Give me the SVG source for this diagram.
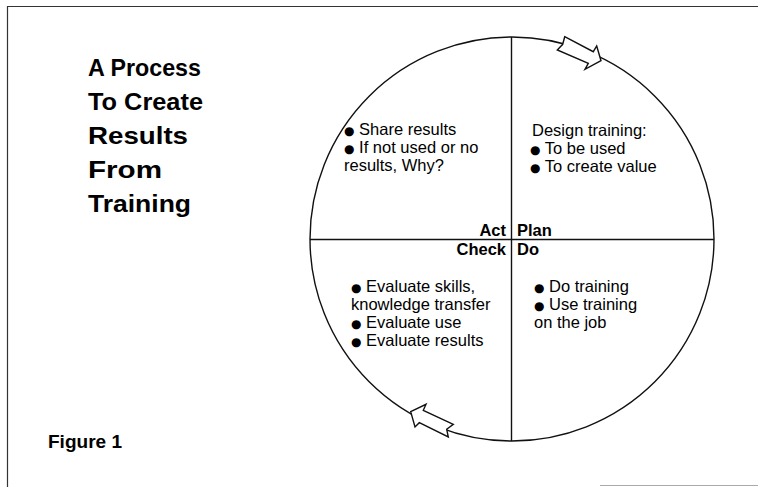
<svg xmlns="http://www.w3.org/2000/svg" width="758" height="487" viewBox="0 0 758 487">
  <style>
    .frame { fill: none; stroke: #333; stroke-width: 1.2; }
    .line { fill: none; stroke: #111; stroke-width: 1.4; }
    .arrow { fill: #fff; stroke: #111; stroke-width: 1.4; stroke-linejoin: miter; }
    .title { font-family: "Liberation Sans", Arial, sans-serif; font-weight: bold; font-size: 24px; fill: #000; }
    .body { font-family: "Liberation Sans", Arial, "DejaVu Sans", sans-serif; font-size: 16.5px; fill: #000; }
    .label { font-family: "Liberation Sans", Arial, sans-serif; font-weight: bold; font-size: 16.5px; fill: #000; }
    .fig { font-family: "Liberation Sans", Arial, sans-serif; font-weight: bold; font-size: 19px; fill: #000; }
    .dot { font-family: "DejaVu Sans", sans-serif; font-size: 12px; }
  </style>
  <rect width="758" height="487" fill="#fff"/>
  <!-- page frame -->
  <path class="frame" d="M7.5 487 V6.5 H758"/>
  <line x1="600" y1="485.5" x2="758" y2="485.5" stroke="#aaa" stroke-width="1"/>

  <!-- heading -->
  <g id="heading">
    <text class="title" x="88" y="76" textLength="113" lengthAdjust="spacingAndGlyphs">A Process</text>
    <text class="title" x="88" y="110" textLength="115" lengthAdjust="spacingAndGlyphs">To Create</text>
    <text class="title" x="88" y="144" textLength="100" lengthAdjust="spacingAndGlyphs">Results</text>
    <text class="title" x="88" y="178" textLength="74" lengthAdjust="spacingAndGlyphs">From</text>
    <text class="title" x="88" y="212" textLength="103" lengthAdjust="spacingAndGlyphs">Training</text>
  </g>

  <!-- cycle: circle, quadrant dividers and flow arrows -->
  <g id="connectors">
    <circle class="line" cx="512" cy="239" r="202"/>
    <line class="line" x1="310" y1="239.5" x2="714" y2="239.5"/>
    <line class="line" x1="511.5" y1="37" x2="511.5" y2="441"/>
    <path class="arrow" d="M564.7 36.7 L593.3 51.7 L596.7 46 L601 60.7 L585 69.3 L588.3 63.3 L557.3 50 L562.7 44.3 Z"/>
    <path class="arrow" d="M410.7 411.7 L426 404.3 L423.3 410.3 L453.3 424.3 L446.7 429.3 L448.3 437 L419.3 422.7 L415 427 Z"/>
  </g>

  <g id="act">
    <text class="body" x="344" y="135"><tspan class="dot">●</tspan> Share results</text>
    <text class="body" x="344" y="153"><tspan class="dot">●</tspan> If not used or no</text>
    <text class="body" x="344" y="171">results, Why?</text>
    <text class="label" x="506" y="236" text-anchor="end">Act</text>
  </g>

  <g id="plan">
    <text class="body" x="532" y="136">Design training:</text>
    <text class="body" x="530" y="154"><tspan class="dot">●</tspan> To be used</text>
    <text class="body" x="530" y="172"><tspan class="dot">●</tspan> To create value</text>
    <text class="label" x="517" y="236">Plan</text>
  </g>

  <g id="check">
    <text class="label" x="506" y="255" text-anchor="end">Check</text>
    <text class="body" x="351" y="292"><tspan class="dot">●</tspan> Evaluate skills,</text>
    <text class="body" x="351" y="310">knowledge transfer</text>
    <text class="body" x="351" y="328"><tspan class="dot">●</tspan> Evaluate use</text>
    <text class="body" x="351" y="346"><tspan class="dot">●</tspan> Evaluate results</text>
  </g>

  <g id="do">
    <text class="label" x="517" y="255">Do</text>
    <text class="body" x="534" y="292"><tspan class="dot">●</tspan> Do training</text>
    <text class="body" x="534" y="310"><tspan class="dot">●</tspan> Use training</text>
    <text class="body" x="534" y="328">on the job</text>
  </g>

  <g id="caption">
    <text class="fig" x="48" y="448" textLength="74" lengthAdjust="spacingAndGlyphs">Figure 1</text>
  </g>
</svg>
